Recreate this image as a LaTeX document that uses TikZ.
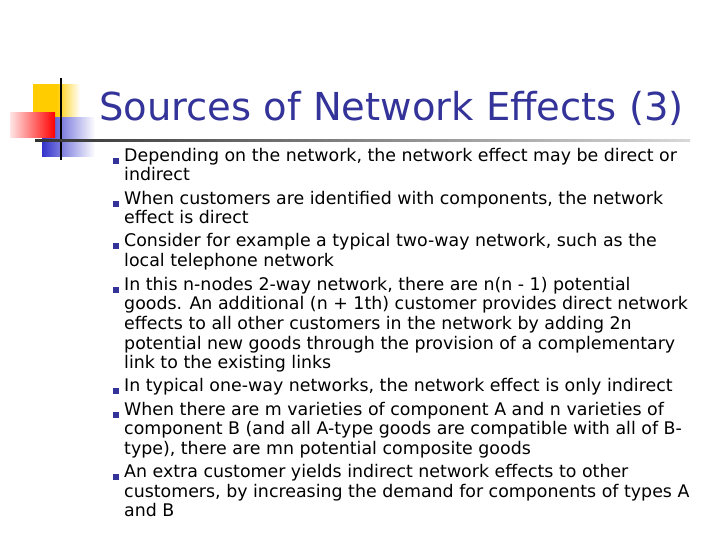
\documentclass[tikz,border=0pt]{standalone}
\usepackage{fontspec}
\setmainfont{DejaVu Sans}
\begin{document}
\begin{tikzpicture}[x=1pt,y=-1pt,
  ln/.style={anchor=mid west,inner sep=0pt,font=\fontsize{17.4}{20}\selectfont},
  bul/.style={fill=navy,minimum size=6pt,inner sep=0pt}]
\definecolor{navy}{RGB}{51,51,153}
\definecolor{ylw}{RGB}{255,204,0}
\definecolor{bl}{RGB}{51,51,204}
\useasboundingbox (0,0) rectangle (720,540);
\fill[left color=ylw,right color=ylw!0,middle color=ylw] (33,85) rectangle (80,118);
\fill[left color=bl,right color=white] (42,118) rectangle (95,157);
\fill[left color=red!10,right color=red] (10,113) rectangle (55,138);
\draw[line width=1.5pt] (61,78) -- (61,160);
\shade[left color=black!80,right color=black!15] (35,140) rectangle (690,142);
\node[anchor=base west,inner sep=0pt,text=navy,font=\fontsize{38.5}{42}\selectfont] (t) at (99,121) {Sources of Network Effects (3)};
\foreach \y in {157,200,242,286,387,411,473} \node[bul] at (116,\y+4) {};
\foreach \y/\s in {157/{Depending on the network, the network effect may be direct or},
176/{indirect},
200/{When customers are identified with components, the network},
219/{effect is direct},
242/{Consider for example a typical two-way network, such as the},
262/{local telephone network},
286/{In this n-nodes 2-way network, there are n(n - 1) potential},
305/{goods. An additional (n + 1th) customer provides direct network},
325/{effects to all other customers in the network by adding 2n},
345/{potential new goods through the provision of a complementary},
364/{link to the existing links},
387/{In typical one-way networks, the network effect is only indirect},
411/{When there are m varieties of component A and n varieties of},
430/{component B (and all A-type goods are compatible with all of B-},
450/{type), there are mn potential composite goods},
473/{An extra customer yields indirect network effects to other},
493/{customers, by increasing the demand for components of types A},
512/{and B}}
  \node[ln] at (124,\y+2) {\s};
\end{tikzpicture}
\end{document}
